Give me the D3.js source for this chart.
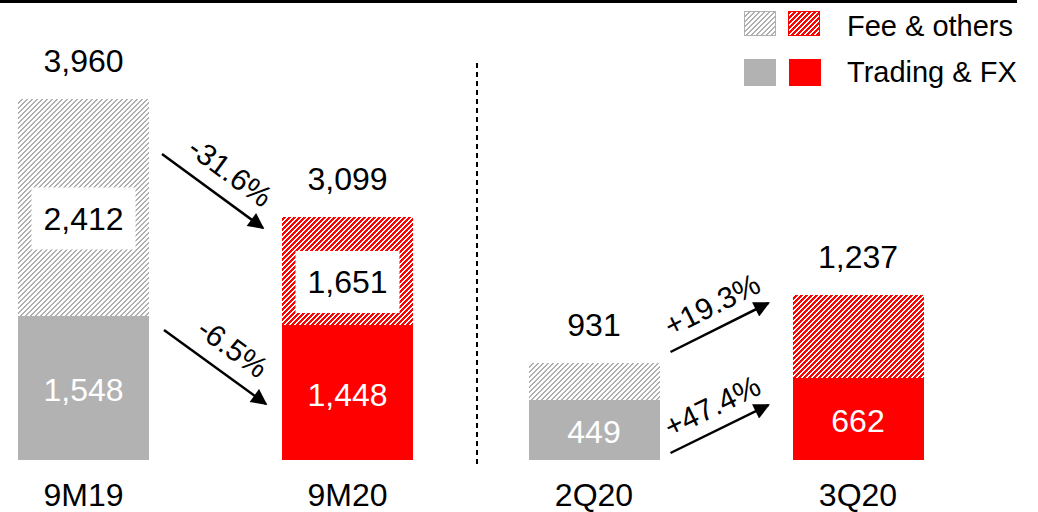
<!DOCTYPE html>
<html>
<head>
<meta charset="utf-8">
<script src="https://cdn.jsdelivr.net/npm/d3@7"></script>
<style>
  html, body { margin: 0; padding: 0; background: #fff; }
  svg { display: block; font-family: "Liberation Sans", Arial, sans-serif; }
</style>
</head>
<body>
<svg id="chart" width="1038" height="512"></svg>
<script>
// ---- Data ----
const categories = ["9M19", "9M20", "2Q20", "3Q20"];
const panels = [["9M19", "9M20"], ["2Q20", "3Q20"]];
const tradingFx = [1548, 1448, 449, 662];
const feeOthers = [2412, 1651, 482, 575];
const totals = [3960, 3099, 931, 1237];
const showFeeLabel = [true, true, false, false];
const changeLabels = ["-31.6%", "-6.5%", "+19.3%", "+47.4%"];
// Bars in the original are not drawn to scale: apparent heights
const tradingFxBar = [1580, 1481, 658, 900];
const totalBar = [3960, 2666, 1064, 1810];
const legendLabels = ["Fee & others", "Trading & FX"];

// ---- Layout ----
const svg = d3.select("#chart");
const baseY = 460, topY = 99;
const barW = 131;
const y = d3.scaleLinear().domain([0, 3960]).range([baseY, topY]);
const xLeft = d3.scalePoint().domain(panels[0]).range([83.5, 347.5]);
const xRight = d3.scalePoint().domain(panels[1]).range([594, 858]);
const xc = c => panels[0].includes(c) ? xLeft(c) : xRight(c);

const GRAY = "#b2b2b2", RED = "#ff0000";

// ---- Patterns (pixel-exact diagonal "/" stripes) ----
const defs = svg.append("defs");
function hatch(id, color, period, stripe) {
  const p = defs.append("pattern").attr("id", id)
    .attr("patternUnits", "userSpaceOnUse")
    .attr("width", period).attr("height", period);
  p.append("rect").attr("width", period).attr("height", period).attr("fill", "#fff");
  const cells = [];
  for (let yy = 0; yy < period; yy++)
    for (let xx = 0; xx < period; xx++)
      if ((xx + yy) % period < stripe) cells.push([xx, yy]);
  p.selectAll("rect.c").data(cells).join("rect").attr("class", "c")
    .attr("x", d => d[0]).attr("y", d => d[1]).attr("width", 1).attr("height", 1)
    .attr("fill", color).attr("shape-rendering", "crispEdges");
}
hatch("hatchGray", "#b0b0b0", 5, 2);
hatch("hatchRed", RED, 5, 3);
defs.append("marker").attr("id", "arrowHead")
  .attr("viewBox", "0 0 10 10").attr("refX", 9).attr("refY", 5)
  .attr("markerUnits", "userSpaceOnUse")
  .attr("markerWidth", 19).attr("markerHeight", 16)
  .attr("orient", "auto")
  .append("path").attr("d", "M0,0 L10,5 L0,10 Z").attr("fill", "#000");

// ---- Top rule ----
svg.append("line").attr("x1", 0).attr("x2", 1017).attr("y1", 1.5).attr("y2", 1.5)
  .attr("stroke", "#000").attr("stroke-width", 3);

// ---- Divider ----
svg.append("line").attr("x1", 477).attr("x2", 477).attr("y1", 63).attr("y2", 466)
  .attr("stroke", "#000").attr("stroke-width", 2).attr("stroke-dasharray", "5,4");

// ---- Bars ----
const rows = categories.map((c, i) => ({
  c, i, fx: tradingFx[i], fee: feeOthers[i], total: totals[i],
  fxBar: tradingFxBar[i], totBar: totalBar[i], red: i % 2 === 1
}));

const g = svg.append("g");
g.selectAll("rect.fee").data(rows).join("rect").attr("class", "fee")
  .attr("x", d => Math.round(xc(d.c) - barW / 2)).attr("width", barW)
  .attr("y", d => Math.round(y(d.totBar))).attr("height", d => Math.round(y(d.fxBar)) - Math.round(y(d.totBar)))
  .attr("fill", d => d.red ? "url(#hatchRed)" : "url(#hatchGray)");
g.selectAll("rect.fx").data(rows).join("rect").attr("class", "fx")
  .attr("x", d => Math.round(xc(d.c) - barW / 2)).attr("width", barW)
  .attr("y", d => Math.round(y(d.fxBar))).attr("height", d => y(0) - Math.round(y(d.fxBar)))
  .attr("fill", d => d.red ? RED : GRAY);

const FS = 32;
const feeRows = rows.filter(d => showFeeLabel[d.i]);
g.selectAll("rect.feebox").data(feeRows).join("rect").attr("class", "feebox")
  .attr("x", d => xc(d.c) - 52).attr("width", 104)
  .attr("y", d => (y(d.totBar) + y(d.fxBar)) / 2 + 11 - 31).attr("height", 62)
  .attr("fill", "#fff");
g.selectAll("text.fee").data(feeRows).join("text").attr("class", "fee")
  .attr("x", d => xc(d.c)).attr("y", d => (y(d.totBar) + y(d.fxBar)) / 2 + 11)
  .attr("dy", "0.35em").attr("text-anchor", "middle")
  .attr("font-size", FS).attr("fill", "#000")
  .text(d => d3.format(",")(d.fee));
g.selectAll("text.fx").data(rows).join("text").attr("class", "fx")
  .attr("x", d => xc(d.c)).attr("y", d => (y(d.fxBar) + y(0)) / 2 + 2)
  .attr("dy", "0.35em").attr("text-anchor", "middle")
  .attr("font-size", FS).attr("fill", "#fff")
  .text(d => d3.format(",")(d.fx));
g.selectAll("text.tot").data(rows).join("text").attr("class", "tot")
  .attr("x", d => xc(d.c)).attr("y", d => y(d.totBar) - 27)
  .attr("text-anchor", "middle").attr("font-size", FS).attr("fill", "#000")
  .text(d => d3.format(",")(d.total));
g.selectAll("text.cat").data(rows).join("text").attr("class", "cat")
  .attr("x", d => xc(d.c)).attr("y", 506)
  .attr("text-anchor", "middle").attr("font-size", FS).attr("fill", "#000")
  .text(d => d.c);

// ---- Change arrows ----
const arrows = [
  { x1: xLeft("9M19") + barW / 2 + 13, y1: 154, x2: xLeft("9M20") - barW / 2 - 19, y2: 228, off: 13 },
  { x1: xLeft("9M19") + barW / 2 + 15, y1: 330, x2: xLeft("9M20") - barW / 2 - 16, y2: 404, off: 13 },
  { x1: xRight("2Q20") + barW / 2 + 11, y1: 352, x2: xRight("3Q20") - barW / 2 - 24, y2: 303, off: 15 },
  { x1: xRight("2Q20") + barW / 2 + 11, y1: 453, x2: xRight("3Q20") - barW / 2 - 24, y2: 405, off: 15 }
].map((a, i) => Object.assign(a, { label: changeLabels[i] }));

const ag = svg.append("g");
ag.selectAll("line").data(arrows).join("line")
  .attr("x1", d => d.x1).attr("y1", d => d.y1).attr("x2", d => d.x2).attr("y2", d => d.y2)
  .attr("stroke", "#000").attr("stroke-width", 2.5).attr("marker-end", "url(#arrowHead)");
ag.selectAll("text").data(arrows).join("text")
  .attr("transform", d => {
    const ang = Math.atan2(d.y2 - d.y1, d.x2 - d.x1) * 180 / Math.PI;
    return `translate(${(d.x1 + d.x2) / 2 + 4},${(d.y1 + d.y2) / 2}) rotate(${ang})`;
  })
  .attr("y", d => -d.off).attr("text-anchor", "middle")
  .attr("font-size", 30).attr("fill", "#000")
  .text(d => d.label);

// ---- Legend ----
const lg = svg.append("g");
lg.append("rect").attr("x", 744.5).attr("y", 11.5).attr("width", 31).attr("height", 24)
  .attr("fill", "url(#hatchGray)").attr("stroke", "#b0b0b0").attr("stroke-width", 1);
lg.append("rect").attr("x", 788.5).attr("y", 11.5).attr("width", 31).attr("height", 24)
  .attr("fill", "url(#hatchRed)").attr("stroke", RED).attr("stroke-width", 1);
lg.append("rect").attr("x", 744).attr("y", 59).attr("width", 32).attr("height", 27).attr("fill", GRAY);
lg.append("rect").attr("x", 789).attr("y", 59).attr("width", 32).attr("height", 27).attr("fill", RED);
lg.selectAll("text").data(legendLabels).join("text")
  .attr("x", 847).attr("y", (d, i) => i === 0 ? 36 : 82)
  .attr("font-size", 29).attr("fill", "#000").text(d => d);
</script>
</body>
</html>
